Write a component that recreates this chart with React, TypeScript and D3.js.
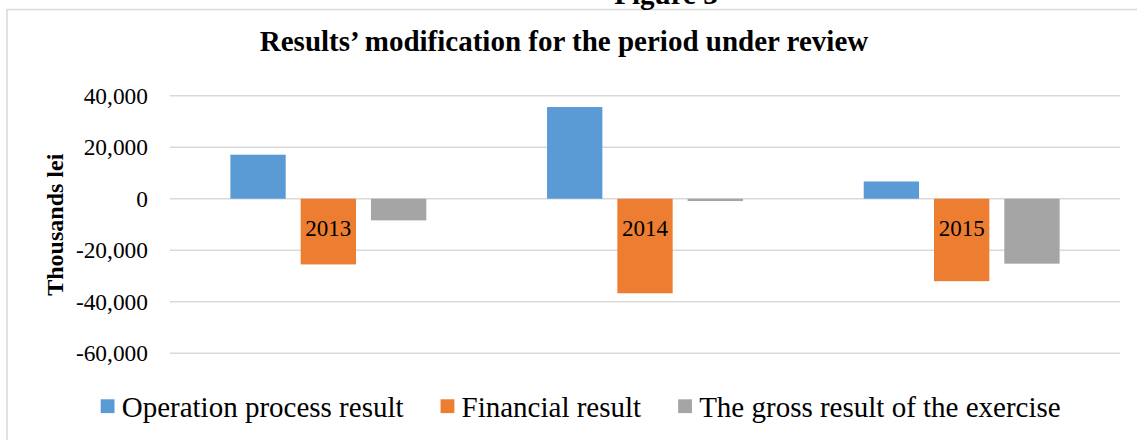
import React, { useEffect, useRef } from 'react'
import * as d3 from 'd3'

const years = ['2013', '2014', '2015']
const seriesNames = ['Operation process result', 'Financial result', 'The gross result of the exercise']
const operationResult = [17100, 35600, 6700]
const financialResult = [-25500, -36700, -32000]
const grossResult = [-8400, -900, -25200]
const yTicks = [40000, 20000, 0, -20000, -40000, -60000]
const seriesColors = ['#5b9bd5', '#ed7d31', '#a5a5a5']

const FONT = '"Liberation Serif", "Times New Roman", serif'

export default function App() {
  const svgRef = useRef<SVGSVGElement>(null)

  useEffect(() => {
    const svg = d3.select(svgRef.current)
    svg.selectAll('*').remove()

    const width = 1137
    const height = 440
    const plotLeft = 170
    const plotRight = 1120
    const plotTop = 95.7
    const plotBottom = 353.3

    svg.attr('width', width).attr('height', height)

    // chart frame (extends past the right and bottom edges)
    svg.append('rect')
      .attr('x', 7)
      .attr('y', 9.5)
      .attr('width', 1200)
      .attr('height', 500)
      .attr('fill', '#fff')
      .attr('stroke', '#d9d9d9')
      .attr('stroke-width', 1.5)

    // caption cut off at the top
    svg.append('text')
      .attr('x', 666)
      .attr('y', 4)
      .attr('text-anchor', 'middle')
      .style('font-family', FONT)
      .style('font-size', '29px')
      .style('font-weight', '700')
      .text('Figure 3')

    svg.append('text')
      .attr('x', 564)
      .attr('y', 51)
      .attr('text-anchor', 'middle')
      .style('font-family', FONT)
      .style('font-size', '29px')
      .style('font-weight', '700')
      .text('Results’ modification for the period under review')

    const y = d3.scaleLinear().domain([-60000, 40000]).range([plotBottom, plotTop])
    const x0 = d3.scaleBand<string>().domain(years).range([plotLeft, plotRight])
    const x1 = d3.scaleBand<string>()
      .domain(seriesNames)
      .range([0, x0.bandwidth()])
      .paddingInner(0.213)
      .paddingOuter(0.859)

    // gridlines
    svg.append('g')
      .selectAll('line')
      .data(yTicks)
      .join('line')
      .attr('x1', plotLeft)
      .attr('x2', plotRight)
      .attr('y1', d => y(d))
      .attr('y2', d => y(d))
      .attr('stroke', '#d9d9d9')
      .attr('stroke-width', 1.5)

    // tick labels
    svg.append('g')
      .selectAll('text')
      .data(yTicks)
      .join('text')
      .attr('x', 148)
      .attr('y', d => y(d))
      .attr('dy', '0.34em')
      .attr('text-anchor', 'end')
      .style('font-family', FONT)
      .style('font-size', '23.4px')
      .text(d => d3.format(',')(d).replace('−', '-'))

    svg.append('text')
      .attr('transform', `translate(63, ${(plotTop + plotBottom) / 2 + 0.2}) rotate(-90)`)
      .attr('text-anchor', 'middle')
      .style('font-family', FONT)
      .style('font-size', '24px')
      .style('font-weight', '700')
      .text('Thousands lei')

    const seriesValues = [operationResult, financialResult, grossResult]
    const bars = years.flatMap((year, i) =>
      seriesNames.map((name, s) => ({ year, name, value: seriesValues[s][i], color: seriesColors[s] }))
    )

    svg.append('g')
      .selectAll('rect')
      .data(bars)
      .join('rect')
      .attr('x', d => x0(d.year)! + x1(d.name)!)
      .attr('width', x1.bandwidth())
      .attr('y', d => y(Math.max(0, d.value)))
      .attr('height', d => Math.abs(y(d.value) - y(0)))
      .attr('fill', d => d.color)

    // category labels sit just under the zero line
    svg.append('g')
      .selectAll('text')
      .data(years)
      .join('text')
      .attr('x', d => x0(d)! + x0.bandwidth() / 2)
      .attr('y', y(0) + 37.4)
      .attr('text-anchor', 'middle')
      .style('font-family', FONT)
      .style('font-size', '23px')
      .text(d => d)

    // legend
    const legend = svg.append('g')
    let lx = 100.7
    seriesNames.forEach((name, i) => {
      legend.append('rect')
        .attr('x', lx)
        .attr('y', 399.3)
        .attr('width', 13.8)
        .attr('height', 13.8)
        .attr('fill', seriesColors[i])
      const t = legend.append('text')
        .attr('x', lx + 21)
        .attr('y', 417)
        .style('font-family', FONT)
        .style('font-size', '29px')
        .text(name)
      const w = (t.node() as SVGTextElement).getComputedTextLength()
      lx += 21 + w + 37
    })
  }, [])

  return (
    <div style={{ position: 'absolute', left: 0, top: 0 }}>
      <svg ref={svgRef} style={{ display: 'block' }} />
    </div>
  )
}
